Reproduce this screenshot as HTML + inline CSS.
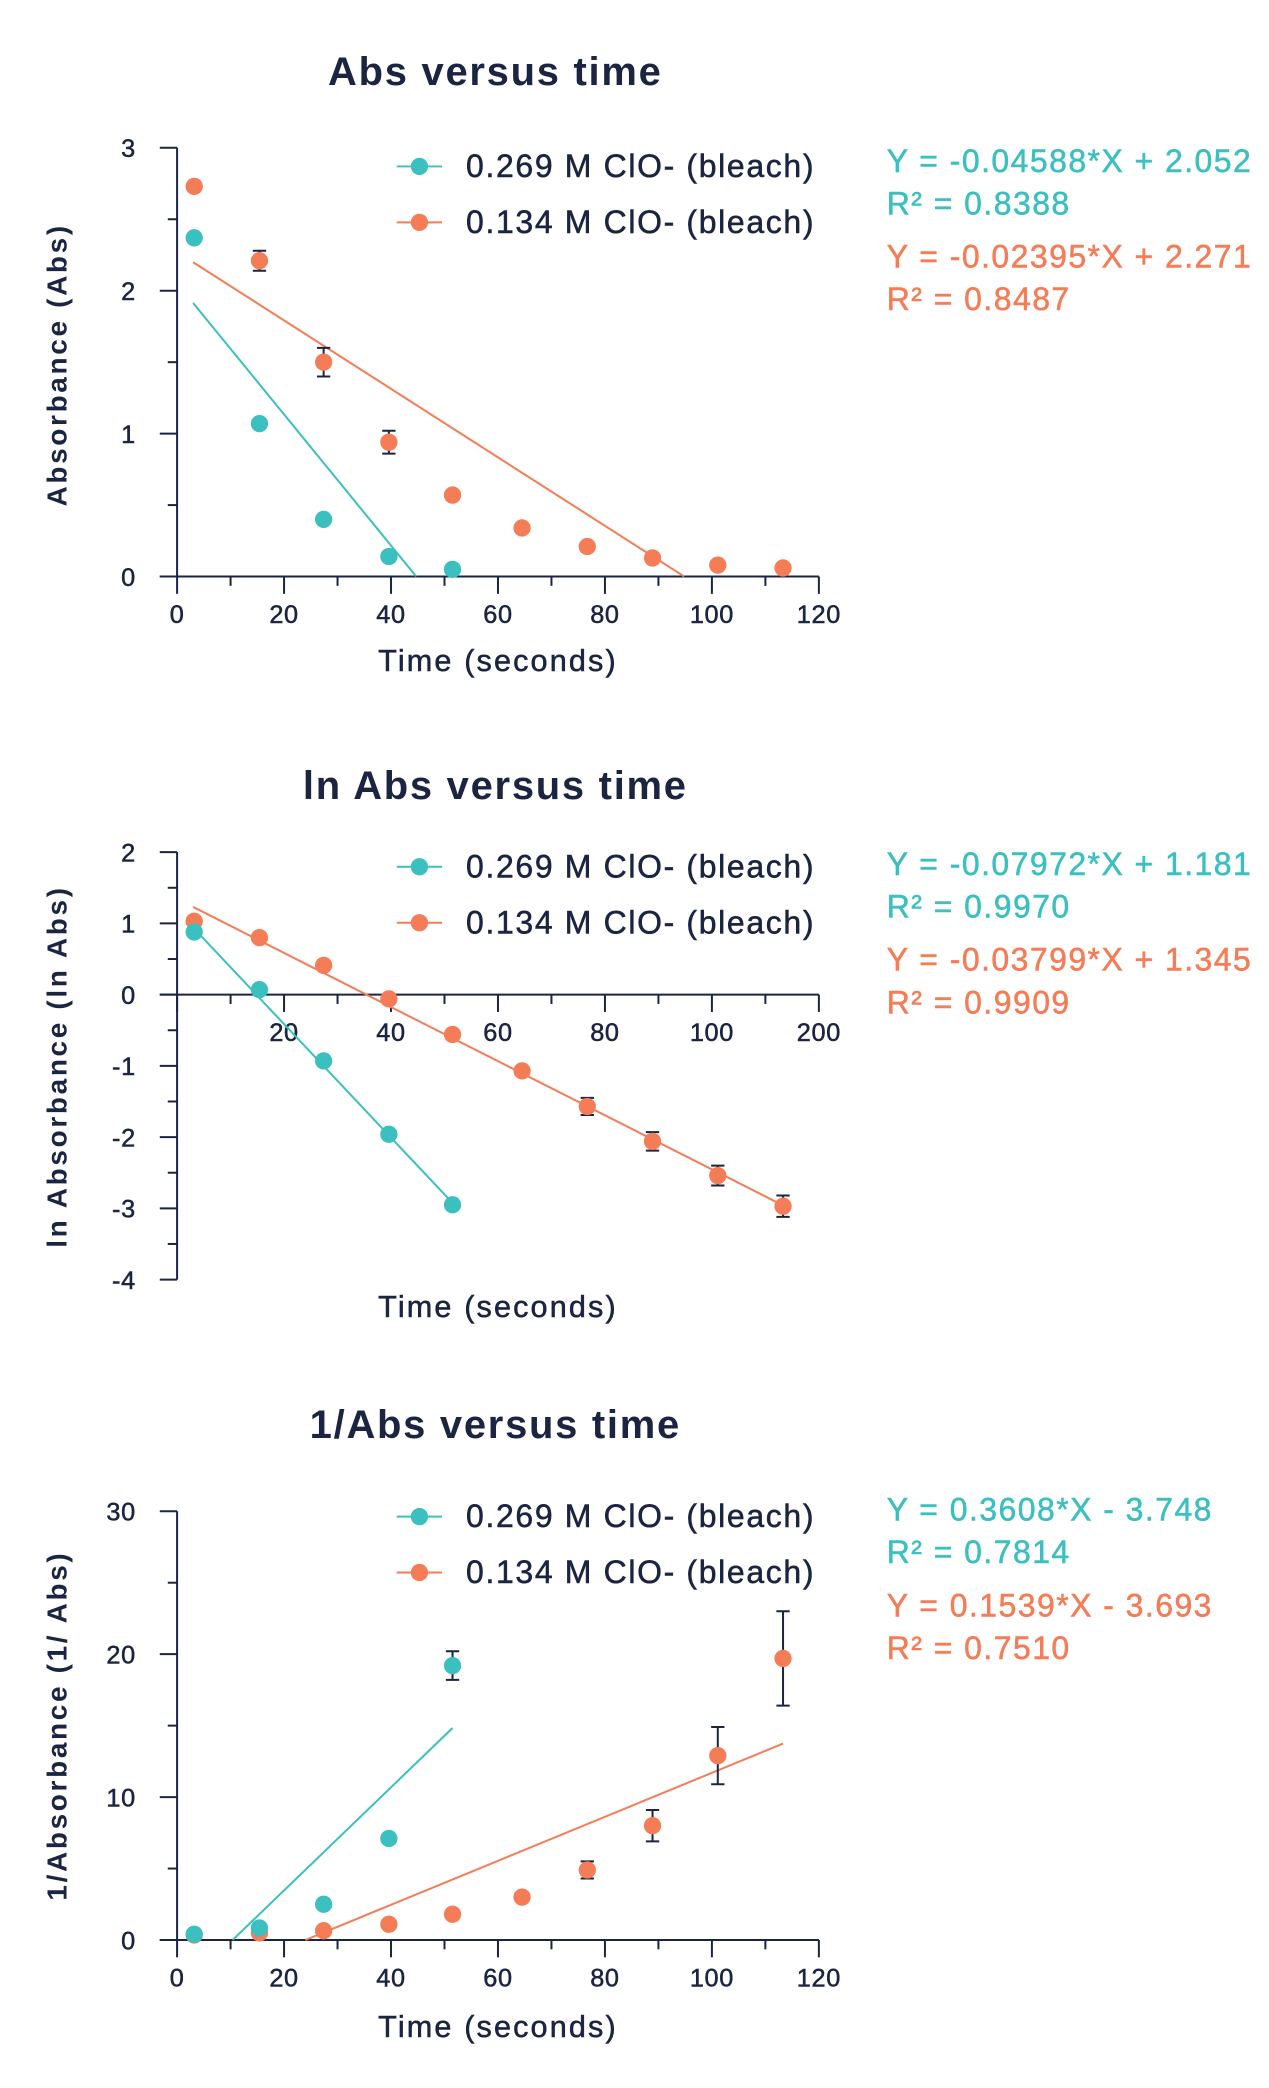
<!DOCTYPE html>
<html><head><meta charset="utf-8"><style>
html,body{margin:0;padding:0;background:#fff;width:1269px;height:2088px;overflow:hidden}
svg{display:block;font-family:"Liberation Sans",sans-serif}
</style></head><body>
<svg id="root" width="1269" height="2088" viewBox="0 0 1269 2088" xmlns="http://www.w3.org/2000/svg">
<g id="scaled" transform="scale(1.3315)"></g>
</svg>
<script>
const times = [3.2, 15.4, 27.4, 39.6, 51.5, 64.5, 76.7, 88.9, 101.1, 113.3];
// Chart 1: Abs
const absTeal = [2.37, 1.07, 0.40, 0.14, 0.05];
const absOrange = [2.73, 2.21, 1.50, 0.94, 0.57, 0.34, 0.21, 0.13, 0.08, 0.06];
const absOrangeErr = [0, 0.07, 0.1, 0.08, 0, 0, 0, 0, 0, 0];
const absTealErr = [0, 0, 0, 0, 0];
const absFitTeal = [-0.04588, 2.052];
const absFitOrange = [-0.02395, 2.271];
const absYTicks = [0, 1, 2, 3];
// Chart 2: ln Abs
const lnTeal = [0.88, 0.07, -0.93, -1.96, -2.95];
const lnOrange = [1.03, 0.80, 0.41, -0.06, -0.56, -1.07, -1.57, -2.06, -2.54, -2.97];
const lnOrangeErr = [0, 0, 0, 0, 0, 0, 0.12, 0.13, 0.14, 0.15];
const lnTealErr = [0, 0, 0, 0, 0];
const lnFitTeal = [-0.07972, 1.181];
const lnFitOrange = [-0.03799, 1.345];
const lnYTicks = [2, 1, 0, -1, -2, -3, -4];
const lnXLabels = ["", "20", "40", "60", "80", "100", "200"];
// Chart 3: 1/Abs
const invTeal = [0.4, 0.84, 2.5, 7.1, 19.2];
const invOrange = [0.35, 0.5, 0.65, 1.1, 1.8, 3.0, 4.9, 8.0, 12.9, 19.7];
const invTealErr = [0, 0, 0, 0, 1.0];
const invOrangeErr = [0, 0, 0, 0, 0, 0, 0.6, 1.1, 2.0, 3.3];
const invFitTeal = [0.3608, -3.748];
const invFitOrange = [0.1539, -3.693];
const invYTicks = [0, 10, 20, 30];
const xTickLabels = ["0", "20", "40", "60", "80", "100", "120"];

const TEAL = "#3bbfbf", ORANGE = "#f47c56", DARK = "#1b2440";
const NS = "http://www.w3.org/2000/svg";
const root = document.getElementById("scaled");
function mk(tag, attrs, parent, text) {
  const e = document.createElementNS(NS, tag);
  for (const k in attrs) e.setAttribute(k, attrs[k]);
  if (text !== undefined) e.textContent = text;
  (parent || root).appendChild(e);
  return e;
}

function chart(c) {
  const g = mk("g", {});
  
  
  const X0 = 133, X1 = 615;
  const sx = v => X0 + (v - 0) * (X1 - X0) / 120;
  const sy = v => c.py0 + (v - c.ymin) * (c.py1 - c.py0) / (c.ymax - c.ymin);
  const t = mk("text", {x: 372, y: c.titleY, "text-anchor": "middle", "font-size": 30, "font-weight": "bold", "letter-spacing": "1.3", fill: DARK}, g, c.title);
  
  
  const ya = mk("line", {x1: X0, x2: X0, y1: sy(c.ymax), y2: sy(c.ymin), stroke: DARK, "stroke-width": 1.5}, g);
  
  
  const step = c.yTicks[1] - c.yTicks[0];
  c.yTicks.forEach((v, i) => {
    mk("line", {x1: X0 - 13, x2: X0, y1: sy(v), y2: sy(v), stroke: DARK, "stroke-width": 1.5}, g);
    const l = mk("text", {x: X0 - 31, y: sy(v) + 7, "text-anchor": "end", "font-size": 19, "letter-spacing": "0.5", stroke: DARK, "stroke-width": 0.4, fill: DARK}, g, String(v));
    
    
    if (i < c.yTicks.length - 1) {
      const m = v + step / 2;
      mk("line", {x1: X0 - 7, x2: X0, y1: sy(m), y2: sy(m), stroke: DARK, "stroke-width": 1.5}, g);
    }
  });
  const xa = mk("line", {x1: X0 - 13, x2: X1, y1: sy(0), y2: sy(0), stroke: DARK, "stroke-width": 1.5}, g);
  
  
  for (let v = 0; v <= 120; v += 10) {
    const major = v % 20 === 0;
    mk("line", {x1: sx(v), x2: sx(v), y1: sy(0), y2: sy(0) + (major ? 13 : 7), stroke: DARK, "stroke-width": 1.5}, g);
  }
  c.xLabels.forEach((s, i) => {
    const l = mk("text", {x: sx(i * 20), y: sy(0) + 35, "text-anchor": "middle", "font-size": 19, "letter-spacing": "0.5", stroke: DARK, "stroke-width": 0.4, fill: DARK}, g, s);
    
    
  });
  const xt = mk("text", {x: 374, y: c.xTitleY, "text-anchor": "middle", "font-size": 23, "letter-spacing": "1.6", stroke: DARK, "stroke-width": 0.4, fill: DARK}, g, "Time (seconds)");
  
  
  const yt = mk("text", {x: 0, y: 0, transform: `translate(50,${c.yTitleY}) rotate(-90)`, "text-anchor": "middle", "font-size": 21, "font-weight": "bold", "letter-spacing": "2", fill: DARK}, g, c.yTitle);
  
  
  [[c.fitTeal, TEAL, c.tealRange], [c.fitOrange, ORANGE, c.orangeRange]].forEach(([f, col, r]) => {
    const fl = mk("line", {x1: sx(r[0]), y1: sy(f[0] * r[0] + f[1]), x2: sx(r[1]), y2: sy(f[0] * r[1] + f[1]), stroke: col, "stroke-width": 1.5}, g);
    
    
  });
  [[c.orange, c.orangeErr, ORANGE], [c.teal, c.tealErr, TEAL]].forEach(([vals, errs, col]) => {
    vals.forEach((v, i) => {
      const x = sx(times[i]);
      if (errs[i] > 0) {
        const e1 = sy(v + errs[i]), e2 = sy(v - errs[i]);
        mk("path", {d: `M${x},${e1}V${e2}M${x - 5},${e1}H${x + 5}M${x - 5},${e2}H${x + 5}`, stroke: DARK, "stroke-width": 1.5, fill: "none"}, g);
      }
      const p = mk("circle", {cx: x, cy: sy(v), r: 6.5, fill: col}, g);
      
      
    });
  });
  [[TEAL, "0.269 M ClO- (bleach)", 0], [ORANGE, "0.134 M ClO- (bleach)", 42]].forEach(([col, s, dy]) => {
    const y = c.legY + dy;
    mk("line", {x1: 298, x2: 332, y1: y, y2: y, stroke: col, "stroke-width": 1.5}, g);
    mk("circle", {cx: 315, cy: y, r: 6.5, fill: col}, g);
    const l = mk("text", {x: 350, y: y + 8, "font-size": 24, "letter-spacing": "1.25", stroke: DARK, "stroke-width": 0.4, fill: DARK}, g, s);
    
    
  });
  c.eqs.forEach((s, i) => {
    const col = i < 2 ? TEAL : ORANGE;
    const l = mk("text", {x: 666, y: c.eqY + [0, 32, 72, 104][i], "font-size": 24, "letter-spacing": "1.1", stroke: col, "stroke-width": 0.4, fill: col}, g, s);
    
    
  });
}

chart({name: "abs-chart", title: "Abs versus time", titleY: 64, ymin: 0, ymax: 3, py0: 433, py1: 111,
  yTicks: absYTicks, xLabels: xTickLabels, xTitleY: 504, yTitleY: 274, yTitle: "Absorbance (Abs)",
  teal: absTeal, orange: absOrange, tealErr: absTealErr, orangeErr: absOrangeErr,
  fitTeal: absFitTeal, fitOrange: absFitOrange, tealRange: [3, 44.7], orangeRange: [3, 94.8],
  legY: 125, eqY: 129, eqs: ["Y = -0.04588*X + 2.052", "R² = 0.8388", "Y = -0.02395*X + 2.271", "R² = 0.8487"]});
chart({name: "ln-abs-chart", title: "ln Abs versus time", titleY: 600, ymin: -4, ymax: 2, py0: 961, py1: 640,
  yTicks: lnYTicks.slice().reverse(), xLabels: lnXLabels, xTitleY: 989, yTitleY: 801, yTitle: "ln Absorbance (ln Abs)",
  teal: lnTeal, orange: lnOrange, tealErr: lnTealErr, orangeErr: lnOrangeErr,
  fitTeal: lnFitTeal, fitOrange: lnFitOrange, tealRange: [3, 51.5], orangeRange: [3, 113.3],
  legY: 651, eqY: 657, eqs: ["Y = -0.07972*X + 1.181", "R² = 0.9970", "Y = -0.03799*X + 1.345", "R² = 0.9909"]});
chart({name: "inverse-abs-chart", title: "1/Abs versus time", titleY: 1080, ymin: 0, ymax: 30, py0: 1457, py1: 1135,
  yTicks: invYTicks, xLabels: xTickLabels, xTitleY: 1530, yTitleY: 1296, yTitle: "1/Absorbance (1/ Abs)",
  teal: invTeal, orange: invOrange, tealErr: invTealErr, orangeErr: invOrangeErr,
  fitTeal: invFitTeal, fitOrange: invFitOrange, tealRange: [10.4, 51.5], orangeRange: [24, 113.3],
  legY: 1139, eqY: 1142, eqs: ["Y = 0.3608*X - 3.748", "R² = 0.7814", "Y = 0.1539*X - 3.693", "R² = 0.7510"]});
</script>
</body></html>
